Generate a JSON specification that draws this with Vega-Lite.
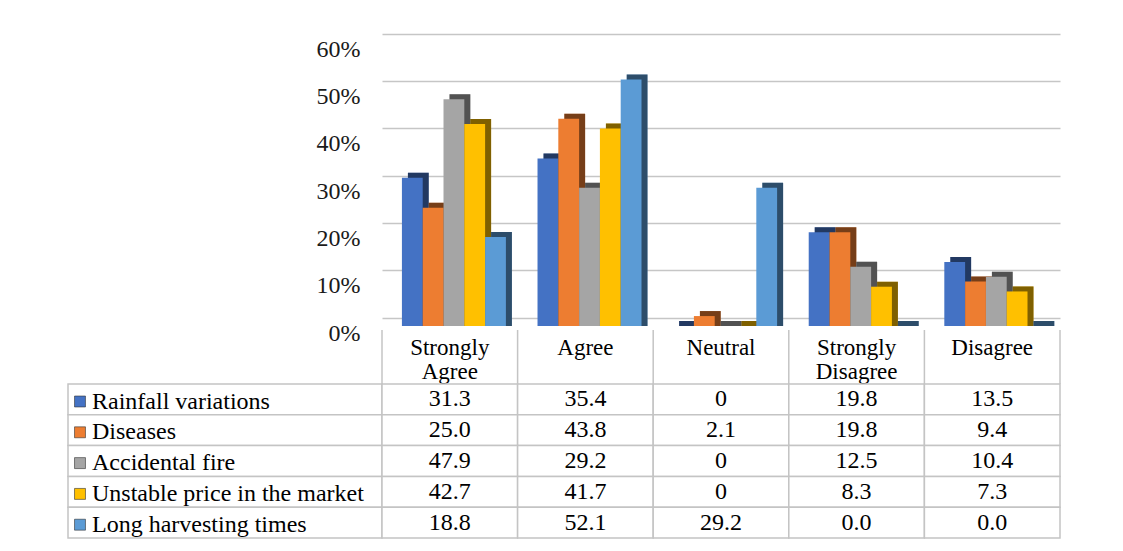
{
  "$schema": "https://vega.github.io/schema/vega-lite/v6.json",
  "background": "white",
  "padding": {"left": 67, "top": 37, "right": 0, "bottom": 0},
  "config": {"view": {"stroke": null}, "font": "Liberation Serif"},
  "datasets": {
    "survey": [
      {"category": "Strongly Agree", "series": "Rainfall variations", "value": 31.3, "shown": "31.3"},
      {"category": "Agree", "series": "Rainfall variations", "value": 35.4, "shown": "35.4"},
      {"category": "Neutral", "series": "Rainfall variations", "value": 0, "shown": "0"},
      {"category": "Strongly Disagree", "series": "Rainfall variations", "value": 19.8, "shown": "19.8"},
      {"category": "Disagree", "series": "Rainfall variations", "value": 13.5, "shown": "13.5"},
      {"category": "Strongly Agree", "series": "Diseases", "value": 25.0, "shown": "25.0"},
      {"category": "Agree", "series": "Diseases", "value": 43.8, "shown": "43.8"},
      {"category": "Neutral", "series": "Diseases", "value": 2.1, "shown": "2.1"},
      {"category": "Strongly Disagree", "series": "Diseases", "value": 19.8, "shown": "19.8"},
      {"category": "Disagree", "series": "Diseases", "value": 9.4, "shown": "9.4"},
      {"category": "Strongly Agree", "series": "Accidental fire", "value": 47.9, "shown": "47.9"},
      {"category": "Agree", "series": "Accidental fire", "value": 29.2, "shown": "29.2"},
      {"category": "Neutral", "series": "Accidental fire", "value": 0, "shown": "0"},
      {"category": "Strongly Disagree", "series": "Accidental fire", "value": 12.5, "shown": "12.5"},
      {"category": "Disagree", "series": "Accidental fire", "value": 10.4, "shown": "10.4"},
      {"category": "Strongly Agree", "series": "Unstable price in the market", "value": 42.7, "shown": "42.7"},
      {"category": "Agree", "series": "Unstable price in the market", "value": 41.7, "shown": "41.7"},
      {"category": "Neutral", "series": "Unstable price in the market", "value": 0, "shown": "0"},
      {"category": "Strongly Disagree", "series": "Unstable price in the market", "value": 8.3, "shown": "8.3"},
      {"category": "Disagree", "series": "Unstable price in the market", "value": 7.3, "shown": "7.3"},
      {"category": "Strongly Agree", "series": "Long harvesting times", "value": 18.8, "shown": "18.8"},
      {"category": "Agree", "series": "Long harvesting times", "value": 52.1, "shown": "52.1"},
      {"category": "Neutral", "series": "Long harvesting times", "value": 29.2, "shown": "29.2"},
      {"category": "Strongly Disagree", "series": "Long harvesting times", "value": 0.0, "shown": "0.0"},
      {"category": "Disagree", "series": "Long harvesting times", "value": 0.0, "shown": "0.0"}
    ]
  },
  "columns": 2,
  "spacing": 0,
  "bounds": "flush",
  "concat": [
    {"width": 314, "height": 288, "data": {"values": []}, "mark": "rect"},
    {
      "width": 678,
      "height": 288,
      "data": {"name": "survey"},
      "encoding": {
        "x": {"field": "category", "type": "nominal", "sort": ["Strongly Agree", "Agree", "Neutral", "Strongly Disagree", "Disagree"], "scale": {"paddingInner": 0, "paddingOuter": 0}, "axis": null},
        "y": {"field": "value", "type": "quantitative", "stack": null, "scale": {"domain": [0, 60], "range": [284, 0]},
          "axis": {"title": null, "values": [0, 10, 20, 30, 40, 50, 60], "labelExpr": "datum.value + '%'", "grid": true, "gridColor": "#c6c6c6", "gridWidth": 1.5, "domain": false, "ticks": false, "tickOffset": -8.5, "labelOffset": 15.5, "labelPadding": 22, "labelFont": "Liberation Serif", "labelFontSize": 24, "labelColor": "#1a1a1a"}},
        "color": {"field": "series", "type": "nominal", "scale": {"domain": ["Rainfall variations", "Diseases", "Accidental fire", "Unstable price in the market", "Long harvesting times"], "range": ["#4472C4", "#ED7D31", "#A5A5A5", "#FFC000", "#5B9BD5"]},
          "legend": {"orient": "none", "legendX": 0, "legendY": 347.5, "zindex": 1, "title": null, "direction": "vertical", "symbolType": "square", "symbolSize": 120, "symbolStrokeColor": "#333333", "symbolStrokeWidth": 0.6, "labelFont": "Liberation Serif", "labelFontSize": 24, "labelColor": "#000000", "labelOffset": 0, "rowPadding": 6.8, "padding": 0, "offset": 0, "labelLimit": 400}}
      },
      "layer": [
        {
          "mark": {"type": "bar", "yOffset": -5, "y2Offset": -5},
          "encoding": {
            "xOffset": {"field": "series", "type": "nominal", "sort": ["Rainfall variations", "Diseases", "Accidental fire", "Unstable price in the market", "Long harvesting times"], "scale": {"paddingInner": 0, "paddingOuter": 0.76, "align": 0.82}}
          }
        },
        {
          "mark": {"type": "bar", "yOffset": -5, "y2Offset": -5, "opacity": 0.5},
          "encoding": {
            "xOffset": {"field": "series", "type": "nominal", "sort": ["Rainfall variations", "Diseases", "Accidental fire", "Unstable price in the market", "Long harvesting times"], "scale": {"paddingInner": 0, "paddingOuter": 0.76, "align": 0.82}},
            "color": {"value": "#000000"}
          }
        },
        {
          "mark": {"type": "bar"},
          "encoding": {
            "xOffset": {"field": "series", "type": "nominal", "sort": ["Rainfall variations", "Diseases", "Accidental fire", "Unstable price in the market", "Long harvesting times"], "scale": {"paddingInner": 0, "paddingOuter": 0.76, "align": 0.63}}
          }
        }
      ],
      "resolve": {"scale": {"xOffset": "independent"}}
    },
    {"width": 314, "height": 54, "data": {"values": []}, "mark": "rect"},
    {
      "width": 678,
      "height": 54,
      "data": {"name": "survey"},
      "transform": [{"filter": "datum.series === 'Rainfall variations'"}],
      "layer": [
        {
          "mark": {"type": "rule", "color": "#c4c4c4", "strokeWidth": 1.5},
          "encoding": {"x": {"field": "category", "type": "nominal", "bandPosition": 0, "sort": ["Strongly Agree", "Agree", "Neutral", "Strongly Disagree", "Disagree"], "scale": {"paddingInner": 0, "paddingOuter": 0}, "axis": null}}
        },
        {
          "transform": [{"filter": "datum.category === 'Disagree'"}],
          "mark": {"type": "rule", "color": "#c4c4c4", "strokeWidth": 1.5},
          "encoding": {"x": {"field": "category", "type": "nominal", "bandPosition": 1, "sort": ["Strongly Agree", "Agree", "Neutral", "Strongly Disagree", "Disagree"], "scale": {"paddingInner": 0, "paddingOuter": 0}, "axis": null}}
        },
        {
          "mark": {"type": "text", "baseline": "top", "dy": -20, "lineBreak": " ", "lineHeight": 24, "fontSize": 23, "font": "Liberation Serif", "color": "#000000"},
          "encoding": {
            "x": {"field": "category", "type": "nominal", "sort": ["Strongly Agree", "Agree", "Neutral", "Strongly Disagree", "Disagree"], "scale": {"paddingInner": 0, "paddingOuter": 0}, "axis": null},
            "text": {"field": "category"}
          }
        }
      ]
    },
    {
      "width": 314,
      "height": 154,
      "data": {"name": "survey"},
      "transform": [{"filter": "datum.category === 'Agree'"}],
      "mark": {"type": "rect", "fill": "white", "stroke": "#c4c4c4", "strokeWidth": 1.5},
      "encoding": {
        "x": {"value": 0},
        "x2": {"value": "width"},
        "y": {"field": "series", "type": "nominal", "sort": ["Rainfall variations", "Diseases", "Accidental fire", "Unstable price in the market", "Long harvesting times"], "scale": {"paddingInner": 0, "paddingOuter": 0}, "axis": null}
      }
    },
    {
      "width": 678,
      "height": 154,
      "data": {"name": "survey"},
      "encoding": {
        "x": {"field": "category", "type": "nominal", "sort": ["Strongly Agree", "Agree", "Neutral", "Strongly Disagree", "Disagree"], "scale": {"paddingInner": 0, "paddingOuter": 0}, "axis": null},
        "y": {"field": "series", "type": "nominal", "sort": ["Rainfall variations", "Diseases", "Accidental fire", "Unstable price in the market", "Long harvesting times"], "scale": {"paddingInner": 0, "paddingOuter": 0}, "axis": null}
      },
      "layer": [
        {"mark": {"type": "rect", "fill": "white", "stroke": "#c4c4c4", "strokeWidth": 1.5}},
        {"mark": {"type": "text", "fontSize": 24, "font": "Liberation Serif", "color": "#000000"}, "encoding": {"text": {"field": "shown"}}}
      ]
    }
  ]
}
